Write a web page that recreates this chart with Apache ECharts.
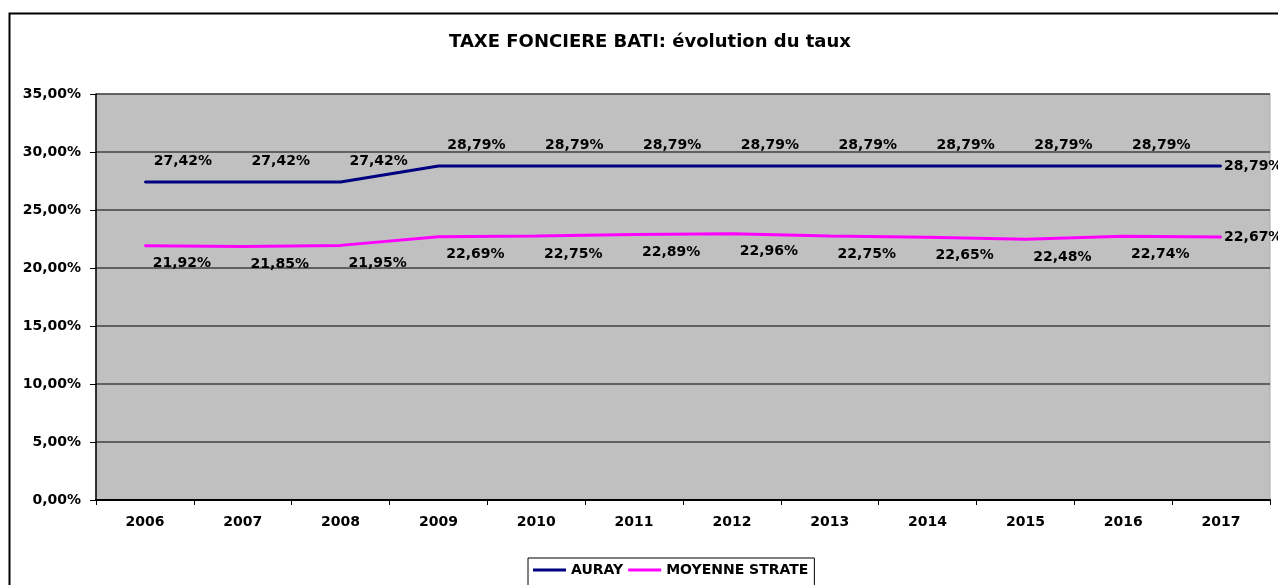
<!DOCTYPE html>
<html>
<head>
<meta charset="utf-8">
<script src="https://cdn.jsdelivr.net/npm/echarts@6/dist/echarts.min.js"></script>
<style>
  html, body { margin: 0; padding: 0; background: #fff; }
  #chart { width: 1278px; height: 585px; }
</style>
</head>
<body>
<div id="chart"></div>
<script>
// Taux de la taxe foncière sur le bâti, 2006–2017
const years = ['2006', '2007', '2008', '2009', '2010', '2011', '2012', '2013', '2014', '2015', '2016', '2017'];
const auray = [27.42, 27.42, 27.42, 28.79, 28.79, 28.79, 28.79, 28.79, 28.79, 28.79, 28.79, 28.79];
const moyenneStrate = [21.92, 21.85, 21.95, 22.69, 22.75, 22.89, 22.96, 22.75, 22.65, 22.48, 22.74, 22.67];
const seriesNames = ['AURAY', 'MOYENNE STRATE'];
const titleText = 'TAXE FONCIERE BATI: évolution du taux';

const FONT = '"DejaVu Sans", sans-serif';
const pct = v => v.toFixed(2).replace('.', ',') + '%';

// Labels sit up-right of the points; the last point's label goes to the right
function withLabels(values, offset) {
  return values.map((v, i) => {
    if (i === values.length - 1) {
      return { value: v, label: { position: 'right', distance: 2, offset: [0, 0] } };
    }
    return { value: v, label: { offset: offset } };
  });
}

const chart = echarts.init(document.getElementById('chart'), null, { renderer: 'canvas' });

const labelStyle = {
  show: true,
  position: 'inside',
  formatter: p => pct(p.value),
  color: '#000',
  fontFamily: FONT,
  fontWeight: 'bold',
  fontSize: 14
};

chart.setOption({
  animation: false,
  backgroundColor: '#fff',
  graphic: [{
    type: 'rect',
    left: 7, top: 11,
    shape: { width: 1300, height: 620 },
    style: { fill: 'none', stroke: '#000', lineWidth: 2 },
    silent: true,
    z: 100
  }],
  title: {
    text: titleText,
    left: 650,
    top: 33,
    textAlign: 'center',
    padding: 0,
    textStyle: { fontFamily: FONT, fontWeight: 'bold', fontSize: 18, color: '#000' }
  },
  legend: {
    left: 528,
    top: 558,
    data: [
      { name: seriesNames[0], icon: 'rect' },
      { name: seriesNames[1], icon: 'rect' }
    ],
    itemWidth: 33,
    itemHeight: 3,
    itemGap: 5,
    itemTextGap: 2,
    padding: [5, 6, 12, 5],
    borderColor: '#000',
    borderWidth: 1,
    borderRadius: 0,
    backgroundColor: '#fff',
    textStyle: { fontFamily: FONT, fontWeight: 'bold', fontSize: 14, color: '#000' }
  },
  grid: {
    left: 96, right: 8, top: 94, bottom: 85,
    show: true,
    backgroundColor: '#C0C0C0',
    borderColor: '#a8a8a8',
    borderWidth: 1
  },
  xAxis: {
    type: 'category',
    data: years,
    boundaryGap: true,
    axisLine: { lineStyle: { color: '#000', width: 2 } },
    axisTick: { show: true, length: 5, lineStyle: { color: '#000', width: 1 } },
    axisLabel: {
      margin: 15,
      color: '#000',
      fontFamily: FONT,
      fontWeight: 'bold',
      fontSize: 14
    },
    splitLine: { show: false }
  },
  yAxis: {
    type: 'value',
    min: 0,
    max: 35,
    interval: 5,
    axisLine: { show: true, lineStyle: { color: '#000', width: 1.5 } },
    axisTick: { show: true, length: 6, lineStyle: { color: '#000', width: 1 } },
    axisLabel: {
      margin: 15,
      color: '#000',
      fontFamily: FONT,
      fontWeight: 'bold',
      fontSize: 14,
      formatter: v => pct(v)
    },
    splitLine: { show: true, lineStyle: { color: '#404040', width: 1.5 } }
  },
  series: [
    {
      name: seriesNames[0],
      type: 'line',
      data: withLabels(auray, [38, -21]),
      symbol: 'circle',
      symbolSize: 2,
      color: '#000080',
      itemStyle: { color: '#000080' },
      lineStyle: { color: '#000080', width: 3 },
      label: labelStyle,
      z: 3
    },
    {
      name: seriesNames[1],
      type: 'line',
      data: withLabels(moyenneStrate, [37, 18]),
      symbol: 'circle',
      symbolSize: 2,
      color: '#FF00FF',
      itemStyle: { color: '#FF00FF' },
      lineStyle: { color: '#FF00FF', width: 3 },
      label: labelStyle,
      z: 3
    }
  ]
});
</script>
</body>
</html>
